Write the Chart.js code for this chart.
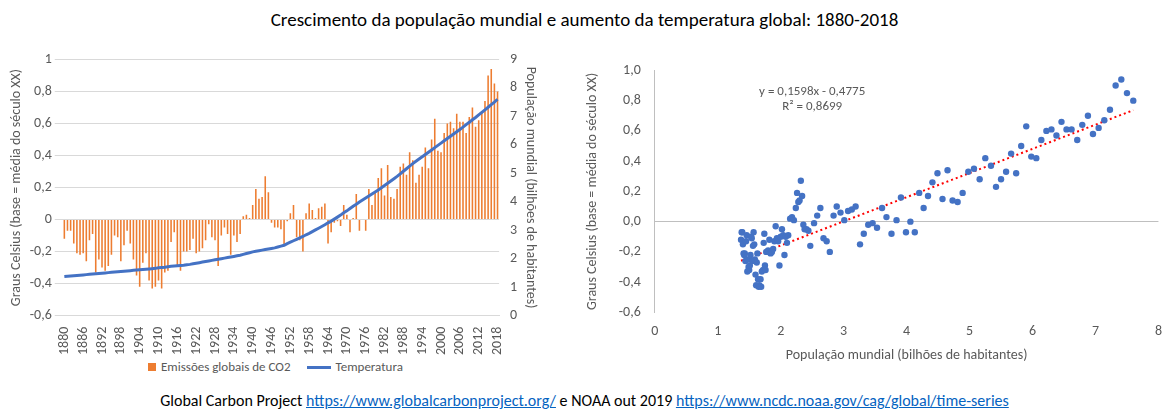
<!DOCTYPE html>
<html><head><meta charset="utf-8">
<script src="https://cdn.jsdelivr.net/npm/chart.js@4"></script>
<style>
body{margin:0;width:1169px;height:420px;background:#fff;font-family:Calibri,Carlito,"Liberation Sans",sans-serif;position:relative;overflow:hidden}
#title{position:absolute;top:8px;left:0;width:1169px;text-align:center;font-size:19px;color:#000}
#left{position:absolute;left:0;top:48px;width:545px;height:310px}
#right{position:absolute;left:580px;top:48px;width:585px;height:320px}
#legend{position:absolute;top:359px;left:148px;font-size:13px;color:#595959}
#legend span.b{display:inline-block;width:8px;height:8px;background:#ED7D31;margin-right:5px}
#legend span.l{display:inline-block;width:24px;height:3px;background:#4472C4;vertical-align:middle;margin:0 5px 0 16px}
#foot{position:absolute;top:391px;left:0;width:1169px;text-align:center;font-size:16px}
#foot a{color:#0563C1}
</style></head><body>
<div id="title">Crescimento da população mundial e aumento da temperatura global: 1880-2018</div>
<div id="left"><canvas id="c1"></canvas></div>
<div id="right"><canvas id="c2"></canvas></div>
<div id="legend"><span class="b"></span>Emissões globais de CO2<span class="l"></span>Temperatura</div>
<div id="foot">Global Carbon Project <a href="#">https://www.globalcarbonproject.org/</a> e NOAA out 2019 <a href="#">https://www.ncdc.noaa.gov/cag/global/time-series</a></div>
<script>
var years = [];
for (var y = 1880; y <= 2018; y++) years.push(String(y));

// anomalia de temperatura (°C, base século XX)
var temps = [
 -0.12,-0.07,-0.07,-0.15,-0.21,-0.22,-0.21,-0.26,-0.13,-0.09,
 -0.33,-0.25,-0.30,-0.32,-0.29,-0.22,-0.10,-0.11,-0.26,-0.16,
 -0.07,-0.15,-0.25,-0.35,-0.42,-0.27,-0.21,-0.38,-0.43,-0.42,
 -0.38,-0.43,-0.33,-0.32,-0.14,-0.08,-0.29,-0.32,-0.20,-0.20,
 -0.19,-0.12,-0.21,-0.20,-0.18,-0.13,-0.03,-0.11,-0.13,-0.29,
 -0.10,-0.05,-0.09,-0.22,-0.10,-0.14,-0.09,0.02,0.03,0.01,
 0.09,0.19,0.13,0.14,0.27,0.17,-0.02,-0.05,-0.05,-0.06,
 -0.16,-0.01,0.04,0.09,-0.11,-0.13,-0.20,0.04,0.10,0.06,
 0.01,0.07,0.08,0.10,-0.15,-0.08,-0.02,-0.01,-0.04,0.09,
 0.03,-0.08,0.01,0.16,-0.07,0.00,-0.07,0.19,0.09,0.17,
 0.26,0.32,0.15,0.34,0.14,0.13,0.19,0.33,0.35,0.28,
 0.42,0.37,0.23,0.28,0.33,0.45,0.32,0.50,0.63,0.43,
 0.42,0.54,0.60,0.61,0.57,0.66,0.61,0.61,0.54,0.64,
 0.70,0.58,0.62,0.67,0.74,0.90,0.94,0.85,0.80
];

// população mundial (bilhões)
var pop = [
 1.37,1.38,1.39,1.40,1.41,1.42,1.43,1.44,1.45,1.46,
 1.47,1.48,1.49,1.50,1.51,1.52,1.53,1.54,1.55,1.56,
 1.57,1.58,1.59,1.60,1.61,1.62,1.63,1.64,1.65,1.66,
 1.68,1.69,1.70,1.72,1.73,1.74,1.75,1.76,1.77,1.79,
 1.80,1.82,1.84,1.86,1.88,1.90,1.92,1.94,1.96,1.98,
 2.00,2.02,2.04,2.06,2.08,2.10,2.12,2.15,2.18,2.21,
 2.24,2.26,2.28,2.30,2.32,2.34,2.36,2.38,2.41,2.44,
 2.47,2.53,2.58,2.63,2.68,2.73,2.78,2.84,2.89,2.95,
 3.01,3.07,3.13,3.19,3.26,3.32,3.39,3.46,3.53,3.61,
 3.68,3.76,3.84,3.91,3.99,4.06,4.13,4.20,4.27,4.34,
 4.41,4.49,4.57,4.65,4.73,4.81,4.89,4.98,5.07,5.16,
 5.25,5.34,5.42,5.50,5.58,5.66,5.74,5.82,5.90,5.98,
 6.06,6.14,6.22,6.30,6.38,6.46,6.54,6.62,6.71,6.79,
 6.88,6.96,7.05,7.14,7.23,7.32,7.41,7.50,7.60
];

var trendA = 0.1598, trendB = -0.4775;

var comma = function (v, d) { return (d === undefined ? String(Math.round(v * 10) / 10) : v.toFixed(d)).replace('.', ','); };
var grey = '#595959';
var font = {family: 'Calibri, Carlito, "Liberation Sans", sans-serif', size: 14};

new Chart(document.getElementById('c1'), {
    data: {
        labels: years,
        datasets: [
            {type: 'line', data: pop, yAxisID: 'y1', borderColor: '#4472C4', borderWidth: 3, pointRadius: 0, order: 0},
            {type: 'bar', data: temps, yAxisID: 'y', backgroundColor: '#ED7D31', barPercentage: 0.5, categoryPercentage: 1, order: 1}
        ]
    },
    options: {
        responsive: true, maintainAspectRatio: false, animation: false,
        layout: {padding: {left: 6, right: 4}},
        plugins: {legend: {display: false}, tooltip: {enabled: false}},
        scales: {
            x: {grid: {display: false}, border: {color: '#d9d9d9'},
                ticks: {autoSkip: false, maxRotation: 90, minRotation: 90, color: grey, font: font,
                    callback: function (v, i) { return i % 6 === 0 ? years[i] : ''; }}},
            y: {min: -0.6, max: 1, ticks: {stepSize: 0.2, color: grey, font: font, callback: function (v) { return comma(v); }},
                grid: {color: '#d9d9d9'}, border: {display: false},
                title: {display: true, text: 'Graus Celsius (base = média do século XX)', color: grey, font: font, padding: 2}},
            y1: {position: 'right', min: 0, max: 9, ticks: {stepSize: 1, color: grey, font: font},
                grid: {display: false}, border: {display: false},
                title: {display: true, text: 'População mundial (bilhões de habitantes)', color: grey, font: font, padding: 2}}
        }
    }
});

var pts = pop.map(function (p, i) { return {x: p, y: temps[i]}; });
var x0 = pop[0], x1 = pop[pop.length - 1];

var eqLabel = {
    id: 'eqLabel',
    afterDraw: function (chart) {
        var ctx = chart.ctx, sx = chart.scales.x, sy = chart.scales.y;
        ctx.save();
        ctx.font = '13px ' + font.family;
        ctx.fillStyle = grey;
        ctx.textAlign = 'center';
        ctx.fillText('y = 0,1598x - 0,4775', sx.getPixelForValue(2.5), sy.getPixelForValue(0.84));
        ctx.fillText('R² = 0,8699', sx.getPixelForValue(2.5), sy.getPixelForValue(0.74));
        ctx.restore();
    }
};

new Chart(document.getElementById('c2'), {
    type: 'scatter',
    data: {
        datasets: [
            {data: pts, backgroundColor: '#4472C4', pointRadius: 3.2, borderWidth: 0},
            {type: 'line', data: [{x: x0, y: trendA * x0 + trendB}, {x: x1, y: trendA * x1 + trendB}],
                borderColor: '#FF0000', borderWidth: 2, borderDash: [2, 3], pointRadius: 0}
        ]
    },
    options: {
        responsive: true, maintainAspectRatio: false, animation: false,
        plugins: {legend: {display: false}, tooltip: {enabled: false}},
        scales: {
            x: {type: 'linear', min: 0, max: 8, ticks: {stepSize: 1, color: grey, font: font},
                grid: {display: false}, border: {display: false},
                title: {display: true, text: 'População mundial (bilhões de habitantes)', color: grey, font: font}},
            y: {min: -0.6, max: 1, ticks: {stepSize: 0.2, color: grey, font: font, padding: 14, callback: function (v) { return comma(v, 1); }},
                grid: {drawTicks: false, color: function (c) { return c.tick.value === 0 ? '#bfbfbf' : 'transparent'; }},
                border: {color: '#bfbfbf'},
                title: {display: true, text: 'Graus Celsius (base = média do século XX)', color: grey, font: font}}
        }
    },
    plugins: [eqLabel]
});
</script>
</body></html>
